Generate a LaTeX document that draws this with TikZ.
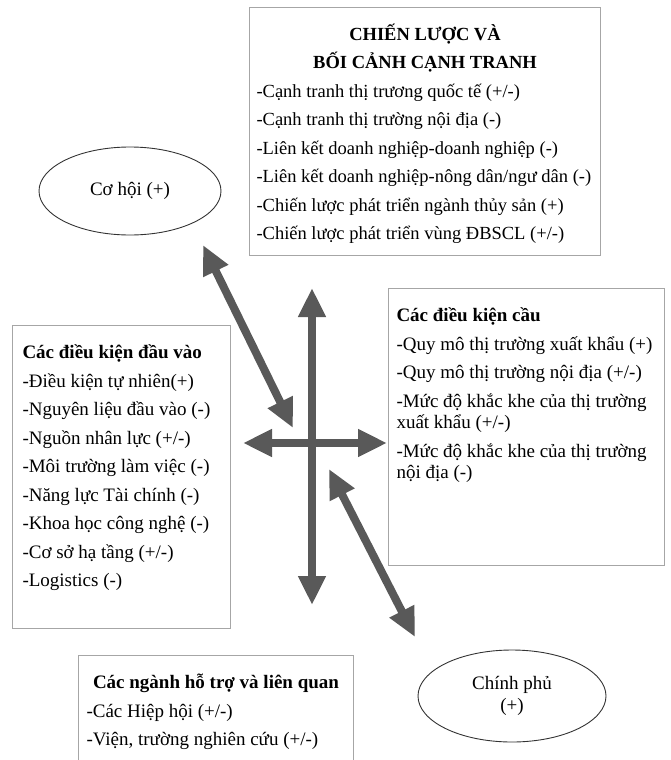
\documentclass[tikz,border=0pt]{standalone}
\usepackage{fontspec}
\setmainfont{Liberation Serif}
\usetikzlibrary{arrows.meta,shapes.geometric}
\definecolor{arrowgray}{HTML}{595959}
\definecolor{framegray}{HTML}{A6A6A6}
\newcommand{\panelbody}[3]{\parbox[t][#1][t]{#2}{\raggedright\setlength{\parskip}{7pt}\rule{0pt}{18pt}#3}}
\tikzset{
  panel/.style ={draw=framegray,line width=1pt,anchor=north west,inner xsep=8pt,inner ysep=15pt},
  chance/.style={draw=black!80,ellipse,line width=0.9pt,align=center,inner sep=0pt},
  duo/.style   ={{Triangle[length=29pt,width=26pt]}-{Triangle[length=29pt,width=26pt]},line width=8pt,draw=arrowgray},
}

\begin{document}
\begin{tikzpicture}[x=1pt,y=-1pt,font=\fontsize{19}{21.5}\selectfont]
  \useasboundingbox (0,0) rectangle (670,760);
  \clip (0,0) rectangle (670,760);

  % the four panels of the diamond
  \node[panel,inner xsep=7pt,font=\fontsize{18.5}{21.5}\selectfont] (strategy) at (249,7) {\panelbody{218pt}{337pt}{%
    {\centering\textbf{CHIẾN LƯỢC VÀ}\\[7pt]\textbf{BỐI CẢNH CẠNH TRANH}\par}
    -Cạnh tranh thị trương quốc tế (+/-)\par
    -Cạnh tranh thị trường nội địa (-)\par
    -Liên kết doanh nghiệp-doanh nghiệp (-)\par
    -Liên kết doanh nghiệp-nông dân/ngư dân (-)\par
    -Chiến lược phát triển ngành thủy sản (+)\par
    -Chiến lược phát triển vùng ĐBSCL (+/-)}};
  \node[panel,inner xsep=10pt] (factors) at (12,325) {\panelbody{273pt}{198pt}{%
    \textbf{Các điều kiện đầu vào}\par
    -Điều kiện tự nhiên(+)\par
    -Nguyên liệu đầu vào (-)\par
    -Nguồn nhân lực (+/-)\par
    -Môi trường làm việc (-)\par
    -Năng lực Tài chính (-)\par
    -Khoa học công nghệ (-)\par
    -Cơ sở hạ tầng (+/-)\par
    -Logistics (-)}};
  \node[panel] (demand) at (388,288) {\panelbody{247pt}{260pt}{%
    \textbf{Các điều kiện cầu}\par
    -Quy mô thị trường xuất khẩu (+)\par
    -Quy mô thị trường nội địa (+/-)\par
    -Mức độ khắc khe của thị trường\\xuất khẩu (+/-)\par
    -Mức độ khắc khe của thị trường\\nội địa (-)}};
  \node[panel] (support) at (78,655) {\panelbody{120pt}{259pt}{%
    {\centering\textbf{Các ngành hỗ trợ và liên quan}\par}
    -Các Hiệp hội (+/-)\par
    -Viện, trường nghiên cứu (+/-)}};

  % chance and government
  \node[chance,minimum width=182pt,minimum height=88pt] (chance) at (130,191) {Cơ hội (+)};
  \node[chance,minimum width=188pt,minimum height=92pt] (gov) at (512,696) {Chính phủ\\(+)};

  % arrow ends
  \coordinate (up)    at (312,288);
  \coordinate (down)  at (312,605);
  \coordinate (west)  at (243,443);
  \coordinate (east)  at (387,443);
  \coordinate (nwTip) at (203,245);
  \coordinate (nwEnd) at (293,428);
  \coordinate (seEnd) at (329,469);
  \coordinate (seTip) at (415,637);

  \draw[duo] (up) -- (down);
  \draw[duo] (west) -- (east);
  \draw[duo] (nwTip) -- (nwEnd);
  \draw[duo] (seEnd) -- (seTip);
\end{tikzpicture}
\end{document}
